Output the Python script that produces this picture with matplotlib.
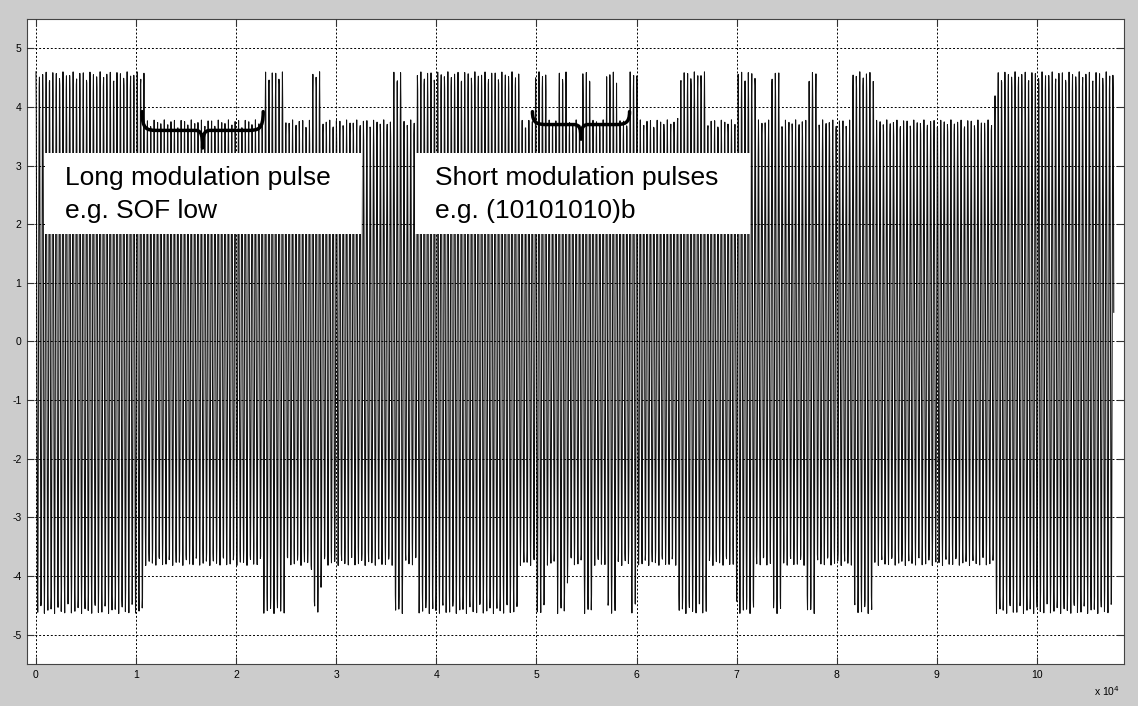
import numpy as np
import matplotlib
matplotlib.use('Agg')
import matplotlib.pyplot as plt
from matplotlib.path import Path
from matplotlib.patches import PathPatch, Rectangle

plt.rcParams['font.family'] = ['Liberation Sans', 'DejaVu Sans']
plt.rcParams['axes.unicode_minus'] = False

# segments where the carrier is at full amplitude (x in samples)
high_start = [0, 22700, 27500, 35700, 38100, 49900, 52100, 54600, 57000, 59300,
              64100, 70000, 73500, 77000, 81600, 95800]
high_end = [10800, 24900, 28500, 36700, 48300, 51000, 53100, 55600, 58000, 60100,
            67100, 72000, 74500, 78000, 83800, 107700]
high_level = 4.62   # unmodulated amplitude
low_level = 3.80    # modulated amplitude
carrier_period = 337.3
sample_step = 29
n_samples = 107700

xticks = np.arange(0, 11) * 1e4
xticklabels = [str(i) for i in range(11)]
yticks = np.arange(-5, 6)

# signal
x = np.arange(0, n_samples, sample_step, dtype=float)
env = np.full_like(x, low_level)
for s, e in zip(high_start, high_end):
    env[(x >= s) & (x <= e)] = high_level
sig = env * np.cos(2 * np.pi * x / carrier_period) - 0.02

fig = plt.figure(figsize=(11.38, 7.06), dpi=100, facecolor='#cccccc')
ax = fig.add_axes([0.0237, 0.0595, 0.964, 0.9136])
ax.set_facecolor('white')
ax.plot(x, sig, color='#111111', lw=0.75)

ax.set_xlim(-900, 108700)
ax.set_ylim(-5.5, 5.5)
ax.set_xticks(xticks)
ax.set_xticklabels(xticklabels)
ax.set_yticks(yticks)
ax.tick_params(direction='in', length=5, width=0.8, labelsize=7.5, pad=4,
               top=True, right=True, colors='#333333', labelcolor='black')
ax.grid(True, linestyle=(0, (2, 2)), color='black', lw=0.7)
ax.set_axisbelow(False)
for sp in ax.spines.values():
    sp.set_color('#444444')
    sp.set_linewidth(0.8)

fig.text(0.9725, 0.012, 'x 10$^4$', fontsize=7.5, ha='center', va='bottom')

# annotation boxes
boxes = [(900, 32500, 1.84, 3.21), (37900, 71300, 1.84, 3.21)]
labels = ['Long modulation pulse\ne.g. SOF low', 'Short modulation pulses\ne.g. (10101010)b']
for (x0, x1, y0, y1), lab in zip(boxes, labels):
    ax.add_patch(Rectangle((x0, y0), x1 - x0, y1 - y0, facecolor='white',
                           edgecolor='none', zorder=5))
    ax.text(x0 + 2000, (y0 + y1) / 2 - 0.02, lab, fontsize=19, ha='left', va='center',
            linespacing=1.5, zorder=6)


def brace(x0, x1, ytop, ymid, ytip):
    xc = (x0 + x1) / 2
    d = 1500
    dt = 800
    verts = [(x0, ytop), (x0, ymid + 0.02), (x0 + d * 0.3, ymid), (x0 + d, ymid),
             (xc - dt, ymid),
             (xc - dt * 0.3, ymid), (xc, ymid - 0.03), (xc, ytip),
             (xc, ymid - 0.03), (xc + dt * 0.3, ymid), (xc + dt, ymid),
             (x1 - d, ymid),
             (x1 - d * 0.3, ymid), (x1, ymid + 0.02), (x1, ytop)]
    codes = [Path.MOVETO, Path.CURVE4, Path.CURVE4, Path.CURVE4,
             Path.LINETO,
             Path.CURVE4, Path.CURVE4, Path.CURVE4,
             Path.CURVE4, Path.CURVE4, Path.CURVE4,
             Path.LINETO,
             Path.CURVE4, Path.CURVE4, Path.CURVE4]
    ax.add_patch(PathPatch(Path(verts, codes), facecolor='none', edgecolor='black',
                           lw=2.5, zorder=6, capstyle='round', joinstyle='round'))


brace(10600, 22700, 3.92, 3.6, 3.3)
brace(49600, 59300, 3.92, 3.7, 3.45)

fig.savefig('out.png', dpi=100, facecolor=fig.get_facecolor())
